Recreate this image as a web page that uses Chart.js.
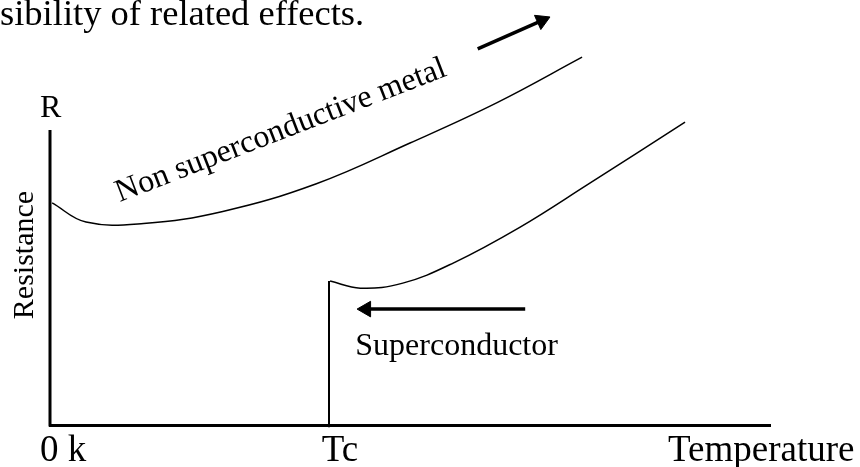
<!DOCTYPE html>
<html>
<head>
<meta charset="utf-8">
<script src="https://cdn.jsdelivr.net/npm/chart.js@4.4.1/dist/chart.umd.min.js"></script>
<style>
    html, body { margin: 0; padding: 0; background: #fff; }
    #wrap { position: relative; width: 860px; height: 467px; overflow: hidden; }
    #chart { position: absolute; left: 0; top: 0; }
    #lead {
        position: absolute; left: 0; top: -9px;
        font: 36.5px 'Liberation Serif', 'Times New Roman', serif;
        color: #000; white-space: nowrap;
    }
</style>
</head>
<body>
<div id="wrap">
    <canvas id="chart" width="860" height="467"></canvas>
    <div id="lead">sibility of related effects.</div>
</div>
<script>
// Sketch data (temperature 0..100, resistance 0..100 on the drawn axis, arbitrary units)
const metalT = [0.3, 5.0, 13.0, 24.0, 37.0, 50.0, 62.1, 73.9];
const metalR = [75.3, 68.8, 68.3, 72.4, 81.8, 95.6, 109.3, 124.7];

const superT = [38.9, 43.1, 49.0, 56.0, 65.3, 74.6, 88.2];
const superR = [48.8, 46.4, 48.1, 54.9, 67.1, 81.4, 102.7];

const tc = 38.75;
const dropT = [tc, tc];
const dropR = [-0.8, 48.8];

// resistance axis is drawn only up to 100
const axisT = [0, 0];
const axisR = [-0.5, 100];

const tickValues = [0, tc, 100];
const tickLabels = ['0 k', 'Tc', 'Temperature'];

// arrows: tail -> head centre
const upArrowT = [59.4, 68.3];
const upArrowR = [127.5, 137.1];
const leftArrowT = [66.0, 43.9];
const leftArrowR = [39.3, 39.3];

const SERIF = "'Liberation Serif', 'Times New Roman', serif";

function pts(xs, ys) {
    return xs.map((v, i) => ({ x: v, y: ys[i] }));
}

function curve(xs, ys) {
    return {
        data: pts(xs, ys),
        borderColor: '#000',
        borderWidth: 1.5,
        pointRadius: 0,
        tension: 0.4,
        clip: false
    };
}

function straight(xs, ys, width) {
    return { data: pts(xs, ys), borderColor: '#000', borderWidth: width, pointRadius: 0, clip: false };
}

function arrow(xs, ys, rot) {
    return {
        data: pts(xs, ys),
        borderColor: '#000',
        borderWidth: 3.5,
        pointStyle: 'triangle',
        pointRadius: [0, 9],
        pointRotation: [0, rot],
        pointBackgroundColor: '#000',
        pointBorderColor: '#000',
        pointBorderWidth: 1,
        clip: false
    };
}

// hand-lettered labels of the sketch
const sketchText = {
    id: 'sketchText',
    afterDraw(chart) {
        const { ctx, scales: { x, y } } = chart;
        ctx.save();
        ctx.fillStyle = '#000';
        ctx.textBaseline = 'alphabetic';

        // temperature axis labels
        ctx.font = '37px ' + SERIF;
        const base = y.getPixelForValue(0) + 36;
        ctx.textAlign = 'left';
        ctx.fillText(tickLabels[0], x.getPixelForValue(tickValues[0]) - 10, base);
        ctx.textAlign = 'center';
        ctx.fillText(tickLabels[1], x.getPixelForValue(tickValues[1]) + 11, base);
        ctx.textAlign = 'left';
        ctx.fillText(tickLabels[2], x.getPixelForValue(tickValues[2]) - 102, base);

        // resistance axis
        ctx.font = '32px ' + SERIF;
        ctx.fillText('R', x.left - 10, y.getPixelForValue(100) - 13);

        ctx.save();
        ctx.font = '30px ' + SERIF;
        ctx.translate(x.left - 25, 255);
        ctx.rotate(-Math.PI / 2);
        ctx.textAlign = 'center';
        ctx.textBaseline = 'middle';
        ctx.fillText('Resistance', 0, 0);
        ctx.restore();

        // curve captions
        ctx.font = '32px ' + SERIF;
        ctx.textAlign = 'left';
        ctx.fillText('Superconductor', x.getPixelForValue(42.4), y.getPixelForValue(23.7));

        ctx.save();
        ctx.translate(x.getPixelForValue(9.7), y.getPixelForValue(75.6));
        ctx.rotate(-21.1 * Math.PI / 180);
        ctx.fillText('Non superconductive metal', 0, 0);
        ctx.restore();

        ctx.restore();
    }
};

new Chart(document.getElementById('chart'), {
    type: 'line',
    data: {
        datasets: [
            straight(axisT, axisR, 3),
            curve(metalT, metalR),
            curve(superT, superR),
            straight(dropT, dropR, 2),
            arrow(upArrowT, upArrowR, 66),
            arrow(leftArrowT, leftArrowR, 270)
        ]
    },
    options: {
        responsive: false,
        animation: false,
        layout: { padding: { left: 50, top: 10, right: 90, bottom: 42 } },
        plugins: {
            legend: { display: false },
            tooltip: { enabled: false }
        },
        scales: {
            x: {
                type: 'linear',
                min: 0,
                max: 100,
                ticks: { display: false },
                grid: { display: false, drawTicks: false },
                border: { display: true, color: '#000', width: 3 }
            },
            y: {
                min: 0,
                max: 140.7,
                ticks: { display: false },
                grid: { display: false, drawTicks: false },
                border: { display: false }
            }
        }
    },
    plugins: [sketchText]
});
</script>
</body>
</html>
